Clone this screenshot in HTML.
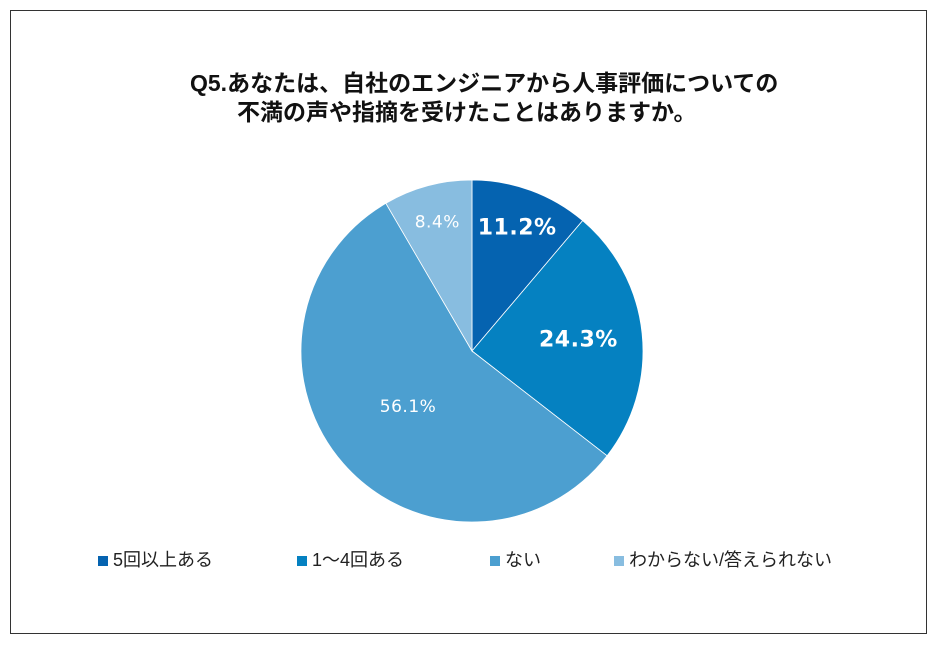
<!DOCTYPE html>
<html><head><meta charset="utf-8"><style>
body{margin:0;background:#fff;width:939px;height:650px;overflow:hidden;font-family:"Liberation Sans","Noto Sans CJK JP",sans-serif;}
#frame{position:absolute;left:10px;top:10px;width:917px;height:624px;border:1px solid #333;box-sizing:border-box;}
.t{position:absolute;font-weight:bold;font-size:23px;color:#111;white-space:nowrap;}
.lg{position:absolute;top:546px;font-size:18px;color:#222;white-space:nowrap;}
.lg i{display:inline-block;width:10px;height:10px;margin-right:5px;vertical-align:0px;}
</style></head><body>
<div id="frame"></div>
<div class="t" style="left:190px;top:64px">Q5.あなたは、自社のエンジニアから人事評価についての</div>
<div class="t" style="left:237px;top:93px">不満の声や指摘を受けたことはありますか。</div>
<svg id="pie" width="939" height="650" style="position:absolute;left:0;top:0"></svg>
<div class="lg" style="left:98px"><i style="background:#0563B0"></i>5回以上ある</div>
<div class="lg" style="left:297px"><i style="background:#0581C1"></i>1～4回ある</div>
<div class="lg" style="left:490px"><i style="background:#4C9FD0"></i>ない</div>
<div class="lg" style="left:614px"><i style="background:#88BDE0"></i>わからない/答えられない</div>
<script>
const categories=["5回以上ある","1～4回ある","ない","わからない/答えられない"];
const values=[11.2,24.3,56.1,8.4];
const labels=["11.2%","24.3%","56.1%","8.4%"];
const colors=["#0563B0","#0581C1","#4C9FD0","#88BDE0"];
const cx=472,cy=351,R=171;
const labelR=[131,107,85,133];
const labelStyle=[["22px","bold"],["22px","bold"],["17px","normal"],["17px","normal"]];
const svg=document.getElementById('pie');
const NS='http://www.w3.org/2000/svg';
const total=values.reduce((a,b)=>a+b,0);
function pt(frac,r){const a=frac*2*Math.PI;return [cx+r*Math.sin(a),cy-r*Math.cos(a)];}
let acc=0;
values.forEach((v,i)=>{
  const s=acc/total,e=(acc+v)/total;acc+=v;
  const [x1,y1]=pt(s,R),[x2,y2]=pt(e,R);
  const p=document.createElementNS(NS,'path');
  p.setAttribute('d',`M${cx},${cy}L${x1},${y1}A${R},${R} 0 ${e-s>0.5?1:0} 1 ${x2},${y2}Z`);
  p.setAttribute('fill',colors[i]);
  p.setAttribute('stroke','#fff');p.setAttribute('stroke-width','0.8');
  
  
  svg.appendChild(p);
});
acc=0;
values.forEach((v,i)=>{
  const m=(acc+v/2)/total;acc+=v;
  const [x,y]=pt(m,labelR[i]);
  const t=document.createElementNS(NS,'text');
  t.setAttribute('x',x);t.setAttribute('y',y);
  t.setAttribute('text-anchor','middle');t.setAttribute('dominant-baseline','central');
  t.setAttribute('fill','#fff');t.setAttribute('font-size',labelStyle[i][0]);t.setAttribute('font-weight',labelStyle[i][1]);
  t.setAttribute('letter-spacing','0.5');
  t.setAttribute('font-family','"DejaVu Sans","Liberation Sans",sans-serif');
  t.textContent=labels[i];
  
  
  svg.appendChild(t);
});
</script>
</body></html>
